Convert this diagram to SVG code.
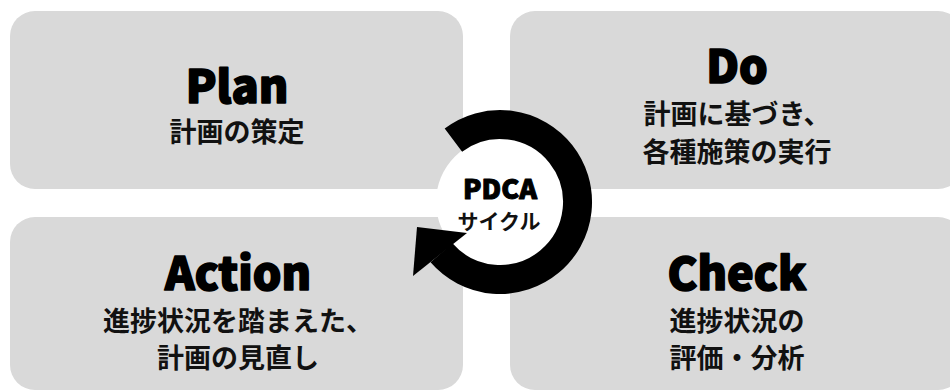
<svg xmlns="http://www.w3.org/2000/svg" width="950" height="390" viewBox="0 0 950 390">
<style>
.box{fill:#d9d9d9}
.title{font-family:"Noto Sans CJK JP","Noto Sans",sans-serif;font-weight:900;font-size:45px;fill:#000;stroke:#000;stroke-width:1.6px;stroke-linejoin:round;text-anchor:middle}
.sub{font-family:"Noto Sans CJK JP",sans-serif;font-weight:700;font-size:27px;fill:#111;text-anchor:middle}
.ctitle{font-family:"Noto Sans CJK JP","Noto Sans",sans-serif;font-weight:900;font-size:27px;fill:#000;stroke:#000;stroke-width:1px;stroke-linejoin:round;text-anchor:middle}
.csub{font-family:"Noto Sans CJK JP",sans-serif;font-weight:700;font-size:21px;fill:#111;text-anchor:middle}
</style>
<rect width="950" height="390" fill="#fff"/>
<g id="plan">
<rect class="box" x="10" y="11" width="453" height="178" rx="25"/>
<text class="title" x="237" y="103">Plan</text>
<text class="sub" x="237" y="142">計画の策定</text>
</g>
<g id="do">
<rect class="box" x="510" y="11" width="453" height="178" rx="25"/>
<text class="title" x="737" y="83">Do</text>
<text class="sub" x="737" y="124">計画に基づき、</text>
<text class="sub" x="737" y="162">各種施策の実行</text>
</g>
<g id="action">
<rect class="box" x="10" y="217" width="453" height="173" rx="25"/>
<text class="title" x="238" y="290">Action</text>
<text class="sub" x="238" y="331">進捗状況を踏まえた、</text>
<text class="sub" x="238" y="368">計画の見直し</text>
</g>
<g id="check">
<rect class="box" x="510" y="217" width="453" height="173" rx="25"/>
<text class="title" x="737" y="290">Check</text>
<text class="sub" x="737" y="331">進捗状況の</text>
<text class="sub" x="737" y="368">評価・分析</text>
</g>
<g id="connectors">
<circle cx="500" cy="202" r="64" fill="#fff"/>
<path d="M453.4 140.1 A77.5 77.5 0 1 1 441.5 252.8" fill="none" stroke="#000" stroke-width="29"/>
<polygon points="417,227 467,233 413,276" fill="#000"/>
</g>
<g id="center">
<text class="ctitle" x="500" y="199">PDCA</text>
<text class="csub" x="499" y="229">サイクル</text>
</g>
</svg>
